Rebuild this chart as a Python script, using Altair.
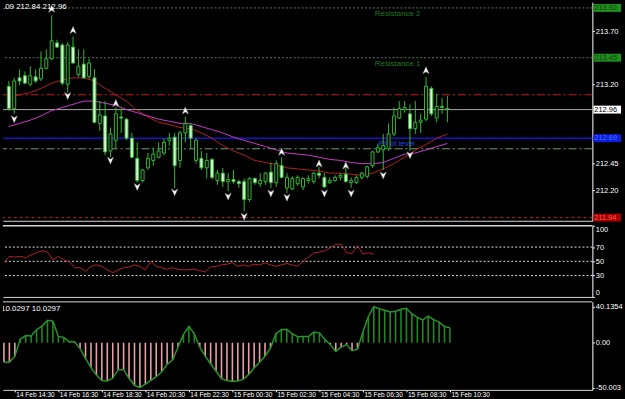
import json
import altair as alt
import pandas as pd

# ---------------- data ----------------
bar_index = list(range(83))
opens = [213.18, 212.97, 213.26, 213.28, 213.20, 213.27, 213.25, 213.35, 213.44, 213.59,
         213.57, 213.20, 213.55, 213.29, 213.39, 213.27, 213.26, 212.83, 212.90, 212.57,
         212.67, 212.89, 212.87, 212.69, 212.50, 212.29, 212.41, 212.48, 212.51, 212.55,
         212.67, 212.70, 212.48, 212.74, 212.81, 212.48, 212.50, 212.41, 212.49, 212.29,
         212.36, 212.28, 212.30, 212.28, 212.28, 212.11, 212.31, 212.26, 212.28, 212.37,
         212.27, 212.43, 212.22, 212.21, 212.26, 212.23, 212.29, 212.28, 212.36, 212.32,
         212.27, 212.29, 212.32, 212.35, 212.27, 212.27, 212.32, 212.33, 212.43, 212.56,
         212.58, 212.59, 212.73, 212.88, 212.96, 212.92, 212.78, 212.84, 212.87, 213.16,
         212.88, 212.99, 212.97]
highs = [213.23, 213.26, 213.34, 213.32, 213.37, 213.34, 213.51, 213.53, 213.85, 213.62,
         213.59, 213.60, 213.65, 213.53, 213.53, 213.44, 213.34, 213.04, 213.04, 212.79,
         212.98, 212.97, 212.88, 212.74, 212.65, 212.40, 212.55, 212.60, 212.65, 212.69,
         212.74, 212.74, 212.76, 212.89, 212.83, 212.69, 212.57, 212.55, 212.50, 212.39,
         212.41, 212.36, 212.39, 212.30, 212.31, 212.32, 212.32, 212.36, 212.37, 212.46,
         212.48, 212.51, 212.36, 212.33, 212.34, 212.32, 212.34, 212.37, 212.42, 212.36,
         212.32, 212.34, 212.36, 212.41, 212.32, 212.34, 212.37, 212.43, 212.57, 212.64,
         212.73, 212.83, 212.98, 213.04, 213.04, 213.01, 213.04, 212.92, 213.27, 213.18,
         213.11, 213.07, 213.09]
lows = [212.95, 212.92, 213.19, 213.20, 213.18, 213.21, 213.23, 213.34, 213.43, 213.54,
        213.19, 213.12, 213.39, 213.27, 213.25, 213.25, 212.83, 212.76, 212.53, 212.51,
        212.59, 212.74, 212.67, 212.50, 212.27, 212.27, 212.39, 212.43, 212.50, 212.53,
        212.62, 212.22, 212.41, 212.65, 212.59, 212.45, 212.39, 212.31, 212.30, 212.25,
        212.23, 212.19, 212.26, 212.22, 212.00, 212.09, 212.25, 212.23, 212.25, 212.22,
        212.23, 212.31, 212.17, 212.20, 212.24, 212.20, 212.26, 212.26, 212.31, 212.22,
        212.26, 212.28, 212.29, 212.27, 212.22, 212.26, 212.30, 212.31, 212.41, 212.55,
        212.39, 212.57, 212.71, 212.87, 212.93, 212.57, 212.73, 212.74, 212.85, 212.90,
        212.84, 212.92, 212.84]
closes = [212.97, 213.23, 213.23, 213.21, 213.28, 213.23, 213.35, 213.44, 213.61, 213.55,
          213.21, 213.57, 213.40, 213.37, 213.26, 213.40, 212.84, 212.91, 212.56, 212.73,
          212.92, 212.88, 212.69, 212.51, 212.29, 212.39, 212.50, 212.54, 212.57, 212.65,
          212.69, 212.43, 212.74, 212.83, 212.69, 212.67, 212.41, 212.48, 212.32, 212.36,
          212.28, 212.30, 212.28, 212.26, 212.11, 212.31, 212.27, 212.29, 212.36, 212.27,
          212.45, 212.32, 212.32, 212.31, 212.32, 212.31, 212.31, 212.36, 212.34, 212.23,
          212.29, 212.32, 212.34, 212.28, 212.29, 212.32, 212.36, 212.42, 212.56, 212.60,
          212.62, 212.73, 212.90, 212.97, 212.98, 212.78, 212.84, 212.86, 213.18, 212.92,
          212.99, 212.98, 212.96]

ma_index = list(range(0, 83, 2))
ma_red = [213.07, 213.10, 213.12, 213.16, 213.21, 213.24, 213.26, 213.26, 213.23, 213.16,
          213.10, 213.04, 212.95, 212.89, 212.84, 212.82, 212.79, 212.78, 212.74, 212.69,
          212.62, 212.57, 212.53, 212.48, 212.46, 212.44, 212.41, 212.40, 212.39, 212.38,
          212.36, 212.36, 212.35, 212.34, 212.36, 212.40, 212.45, 212.51, 212.58, 212.63,
          212.69, 212.73]
ma_magenta = [212.80, 212.83, 212.86, 212.90, 212.95, 212.98, 213.01, 213.04, 213.04, 213.02,
              213.00, 212.96, 212.93, 212.90, 212.87, 212.85, 212.83, 212.83, 212.80, 212.77,
              212.74, 212.70, 212.67, 212.64, 212.61, 212.58, 212.55, 212.54, 212.53, 212.51,
              212.49, 212.48, 212.46, 212.45, 212.45, 212.46, 212.50, 212.54, 212.55, 212.58,
              212.61, 212.64]

fractal_up_index = [8, 12, 20, 33, 51, 58, 63, 78]
fractal_up_price = [213.91, 213.71, 213.02, 212.95, 212.56, 212.45, 212.43, 213.33]
fractal_down_index = [1, 11, 19, 24, 31, 41, 44, 49, 52, 59, 64, 70, 75]
fractal_down_price = [212.87, 213.09, 212.48, 212.23, 212.18, 212.14, 211.95, 212.17,
                      212.13, 212.17, 212.17, 212.34, 212.53]

level_kind = ["r2", "r1", "red_dashdot", "bid", "pivot", "green_dashdot", "s1"]
level_price = [213.92, 213.45, 213.10, 212.96, 212.69, 212.59, 211.94]

level_name_kind = ["r2", "r1", "pivot"]
level_name_text = ["Resistance 2", "Resistance 1", "Pivot level"]

box_kind = ["r2", "r1", "bid", "pivot", "s1"]
box_text = ["213.92", "213.45", "212.96", "212.69", "211.94"]

price_ticks = [213.70, 213.20, 212.45, 212.20]
header_main = ".09 212.84 212.96"

rsi_index = list(range(69))
rsi_values = [48, 57, 56, 57, 55, 59, 62, 65, 63, 52,
              57, 52, 50, 41, 41, 36, 43, 45, 43, 38,
              34, 38, 41, 42, 45, 43, 38, 50, 43, 41,
              39, 41, 39, 38, 38, 39, 37, 35, 42, 43,
              45, 46, 48, 43, 45, 43, 46, 45, 48, 45,
              43, 45, 47, 45, 43, 50, 56, 62, 63, 65,
              69, 74, 74, 62, 61, 72, 60, 62, 60]
rsi_levels = [70, 50, 30]
rsi_ticks = [100, 70, 50, 30, 0]

hist_values = [-21.8, -21.8, -15, 4, 8, 7.5, 14.5, 18.5, 25, 24,
               7, 6, 1, 1, -6.6, -17.4, -27.6, -36, -42, -42.6,
               -39.6, -30, -30, -39.6, -47.4, -50.003, -46.2, -42, -37.8, -32.4,
               -24, -19.2, -4.8, 9, 18.3, 10, -4.8, -15, -23.4, -31.8,
               -40, -42, -43.2, -42.6, -40.8, -35.4, -28.2, -21.6, -15, -6,
               10, 14.5, 15, 10, 6.7, 7, 7, 12, 11, 3.5,
               -2, -9.6, -4.8, -2, -8.8, -7.2, 12, 29, 40.1354, 38,
               36.2, 34.2, 35, 37.2, 38.3, 32, 28.3, 25.3, 29.5, 25.7,
               23, 18, 16.7]
hist_ticks = [40.1354, 0, -50.003]
header_hist = "10.0297 10.0297"

time_tick_index = [2, 10, 18, 26, 34, 42, 50, 58, 66, 74, 82]
time_labels = ["14 Feb 14:30", "14 Feb 16:30", "14 Feb 18:30", "14 Feb 20:30",
               "14 Feb 22:30", "15 Feb 00:30", "15 Feb 02:30", "15 Feb 04:30",
               "15 Feb 06:30", "15 Feb 08:30", "15 Feb 10:30"]

# ---------------- styling ----------------
W = 596
FONT = "Liberation Sans"
FS = 7.5
GREEN = "#33b833"
BEAR_FILL = "#d8f5d8"
AXIS_W = 29

line_styles = {
    "r2": dict(color="#5f785f", strokeDash=[2, 2], strokeWidth=1),
    "r1": dict(color="#5f785f", strokeDash=[2, 2], strokeWidth=1),
    "red_dashdot": dict(color="#c42020", strokeDash=[8, 3, 2, 3], strokeWidth=1),
    "bid": dict(color="#a8a8a8", strokeWidth=1),
    "pivot": dict(color="#1414c8", strokeWidth=1.5),
    "green_dashdot": dict(color="#6f9f6f", strokeDash=[8, 3, 2, 3], strokeWidth=1),
    "s1": dict(color="#c02020", strokeDash=[3, 3], strokeWidth=1),
}
box_bg = {"r2": "#1f8f1f", "r1": "#1f8f1f", "bid": "#ffffff", "pivot": "#0a1ee0", "s1": "#a80000"}
box_fg = {"r2": "#0c3f0c", "r1": "#0c3f0c", "bid": "#000000", "pivot": "#4a6aff", "s1": "#ff5a5a"}
name_color = {"r2": "#1f7a1f", "r1": "#1f7a1f", "pivot": "#2a44e8"}

xs = alt.Scale(domain=[-0.18, -0.18 + W / 5.5], nice=False, zero=False)


def X(axis):
    return alt.X("i:Q", scale=xs, axis=axis, title=None)


hidden_x = alt.Axis(labels=False, ticks=False, grid=False, domain=True, domainColor="#d8d8d8",
                    title=None, minExtent=0, maxExtent=0)


def right_axis(values, **kw):
    return alt.Axis(orient="right", values=values, grid=False, title=None,
                    domainColor="#ffffff", tickColor="#ffffff", tickSize=2,
                    labelColor="#ffffff", labelFont=FONT, labelFontSize=FS, labelPadding=1,
                    minExtent=AXIS_W, maxExtent=AXIS_W, **kw)


# ---------------- main price panel ----------------
candles = pd.DataFrame({"i": bar_index, "open": opens, "high": highs, "low": lows, "close": closes})
ma = pd.DataFrame({"i": ma_index, "red": ma_red, "magenta": ma_magenta})
fup = pd.DataFrame({"i": fractal_up_index, "p": fractal_up_price})
fdn = pd.DataFrame({"i": fractal_down_index, "p": fractal_down_price})
levels = pd.DataFrame({"kind": level_kind, "p": level_price})
names = pd.DataFrame({"kind": level_name_kind, "text": level_name_text})
names["p"] = names["kind"].map(dict(zip(level_kind, level_price)))
boxes = pd.DataFrame({"kind": box_kind, "text": box_text})
boxes["p"] = boxes["kind"].map(dict(zip(level_kind, level_price)))

ys_main = alt.Scale(domain=[211.91, 213.974], nice=False, zero=False)
Yp = lambda f: alt.Y(f, scale=ys_main, axis=right_axis(price_ticks, format=".2f"), title=None)

layers = []
for k in level_kind:
    layers.append(
        alt.Chart(levels[levels.kind == k]).mark_rule(**line_styles[k]).encode(y=Yp("p:Q"))
    )

for k in level_name_kind:
    sub = names[names.kind == k]
    xpos = 380 if k == "pivot" else 376
    layers.append(
        alt.Chart(sub).mark_text(align="left", baseline="top", dy=2, font=FONT, fontSize=8,
                                 color=name_color[k]).encode(x=alt.value(xpos), y=Yp("p:Q"), text="text:N")
    )

layers.append(alt.Chart(ma).mark_line(color="#b02020", strokeWidth=1).encode(x=X(hidden_x), y=Yp("red:Q")))
layers.append(alt.Chart(ma).mark_line(color="#c83cc8", strokeWidth=1).encode(x=X(hidden_x), y=Yp("magenta:Q")))

layers.append(
    alt.Chart(candles).mark_rule(color=GREEN, strokeWidth=1).encode(
        x=X(hidden_x), y=Yp("low:Q"), y2="high:Q")
)
layers.append(
    alt.Chart(candles).mark_bar(size=3, stroke=GREEN, strokeWidth=1).encode(
        x=X(hidden_x), y=Yp("open:Q"), y2="close:Q",
        fill=alt.condition("datum.close >= datum.open", alt.value("#000000"), alt.value(BEAR_FILL)))
)

UP = "M0,-1L0.85,0.9L0,0.35L-0.85,0.9Z"
DOWN = "M0,1L0.85,-0.9L0,-0.35L-0.85,-0.9Z"
layers.append(alt.Chart(fup).mark_point(shape=UP, size=55, filled=True, fill="#ffffff", stroke="#909090",
                                        strokeWidth=0.5, opacity=1).encode(x=X(hidden_x), y=Yp("p:Q")))
layers.append(alt.Chart(fdn).mark_point(shape=DOWN, size=55, filled=True, fill="#ffffff", stroke="#909090",
                                        strokeWidth=0.5, opacity=1).encode(x=X(hidden_x), y=Yp("p:Q")))

# price labels in coloured boxes on the axis
layers.append(
    alt.Chart(boxes).mark_rule(strokeWidth=8, strokeCap="butt").encode(
        x=alt.value(W + 1), x2=alt.value(W + AXIS_W), y=Yp("p:Q"),
        stroke=alt.Stroke("kind:N", scale=alt.Scale(domain=box_kind, range=[box_bg[k] for k in box_kind]),
                          legend=None))
)
layers.append(
    alt.Chart(boxes).mark_text(align="left", baseline="middle", font=FONT, fontSize=FS).encode(
        x=alt.value(W + 2), y=Yp("p:Q"), text="text:N",
        fill=alt.Fill("kind:N", scale=alt.Scale(domain=box_kind, range=[box_fg[k] for k in box_kind]),
                      legend=None))
)

layers.append(
    alt.Chart(pd.DataFrame({"t": [header_main]})).mark_text(
        align="left", baseline="top", font=FONT, fontSize=8, color="#ffffff"
    ).encode(x=alt.value(0), y=alt.value(1), text="t:N")
)

main = alt.layer(*layers).properties(width=W, height=221)

# ---------------- RSI panel ----------------
rsi = pd.DataFrame({"i": rsi_index, "v": rsi_values})
rsil = pd.DataFrame({"v": rsi_levels})
ys_rsi = alt.Scale(domain=[0, 100], nice=False, zero=False)
Yr = lambda f: alt.Y(f, scale=ys_rsi, axis=right_axis(rsi_ticks, format="d", labelFlush=True), title=None)

p2 = alt.layer(
    alt.Chart(rsil).mark_rule(color="#e0e0e0", strokeDash=[2, 2], strokeWidth=1).encode(y=Yr("v:Q")),
    alt.Chart(rsi).mark_line(color="#b22222", strokeWidth=1).encode(x=X(hidden_x), y=Yr("v:Q")),
    alt.Chart(rsil).mark_rule(color="#d8d8d8", strokeWidth=1).encode(y=alt.value(0)),
).properties(width=W, height=72)

# ---------------- histogram panel ----------------
hist = pd.DataFrame({"i": bar_index, "v": hist_values})
ys_h = alt.Scale(domain=[-52.5, 45.5], nice=False, zero=False)
hist_label = "datum.value == 0 ? '0.00' : replace(format(datum.value, '.4~f'), '\u2212', '-')"
Yh = lambda f: alt.Y(f, scale=ys_h, axis=right_axis(hist_ticks, labelExpr=hist_label), title=None)

time_axis = alt.Axis(values=time_tick_index, labelExpr=f"{json.dumps(time_labels)}[round((datum.value - 2) / 8)]",
                     labelAlign="left", labelBaseline="top", labelPadding=0, labelOverlap=False,
                     labelFlush=False, labelColor="#ffffff", labelFont=FONT, labelFontSize=6.6,
                     labelOffset=1,
                     tickColor="#ffffff", tickSize=2, domainColor="#d8d8d8", grid=False, title=None,
                     minExtent=10, maxExtent=10)

p3 = alt.layer(
    alt.Chart(hist).mark_rule(strokeWidth=1.6).encode(
        x=X(time_axis), y=Yh("v:Q"), y2=alt.datum(0),
        stroke=alt.condition("datum.v >= 0", alt.value("#1f8a1f"), alt.value("#e8a0a4"))),
    alt.Chart(hist).mark_line(color="#2a942a", strokeWidth=1.5).encode(x=X(time_axis), y=Yh("v:Q")),
    alt.Chart(pd.DataFrame({"z": [0]})).mark_rule(color="#d8d8d8", strokeWidth=1).encode(y=alt.value(0)),
    alt.Chart(pd.DataFrame({"t": [header_hist]})).mark_text(
        align="left", baseline="top", font=FONT, fontSize=8, color="#ffffff", clip=True
    ).encode(x=alt.value(-2), y=alt.value(3), text="t:N"),
).properties(width=W, height=89)

chart = alt.vconcat(main, p2, p3, spacing=3, padding=0, background="#000000").configure_view(
    stroke=None
)

chart.save("out.html", embed_options={"renderer": "svg", "actions": False})
